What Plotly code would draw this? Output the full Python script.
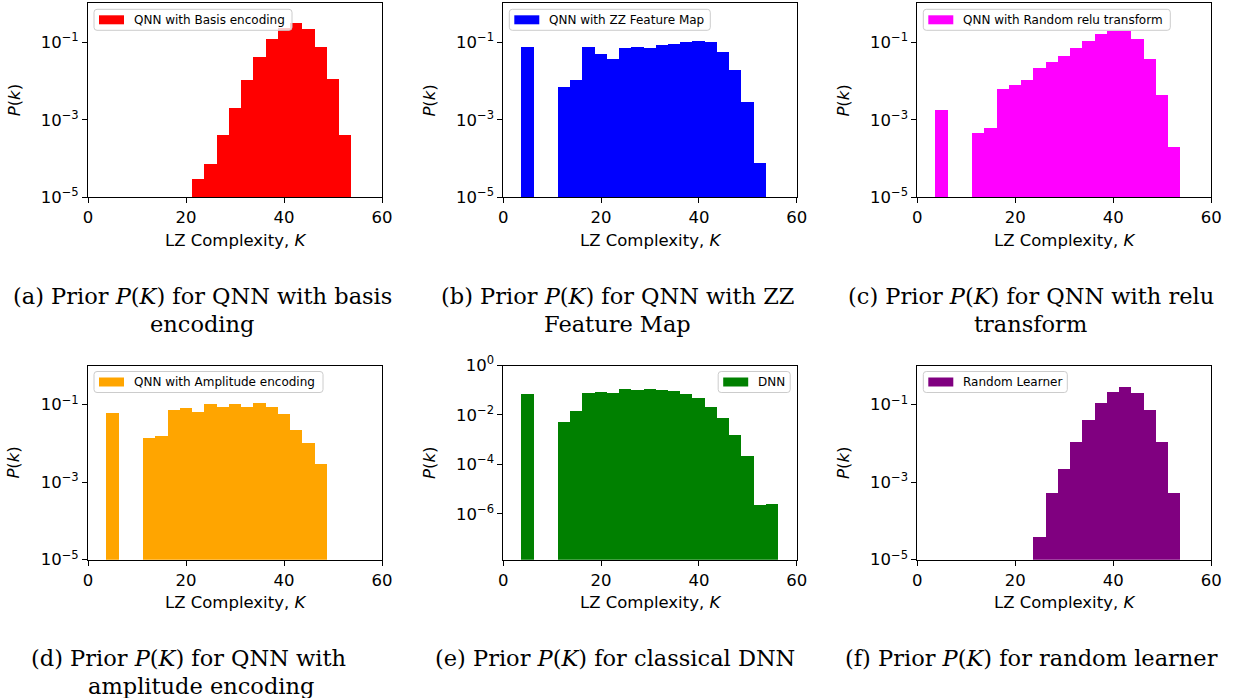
import plotly.graph_objects as go

W, H = 1236, 698
BIN_WIDTH = 2.5

# ---- histogram data: bin centres K and probabilities P(K) ----
k_basis = [22.5, 25.0, 27.5, 30.0, 32.5, 35.0, 37.5, 40.0, 42.5, 45.0, 47.5, 50.0, 52.5]
p_basis = [2.9e-5, 7.0e-5, 3.9e-4, 2.0e-3, 1.07e-2, 4.2e-2, 0.122, 0.23, 0.31, 0.22, 0.075, 0.0112, 3.9e-4]

k_zz = [5.0, 12.5, 15.0, 17.5, 20.0, 22.5, 25.0, 27.5, 30.0, 32.5, 35.0, 37.5, 40.0, 42.5, 45.0, 47.5, 50.0, 52.5]
p_zz = [0.075, 7.0e-3, 0.0108, 0.075, 0.049, 0.036, 0.071, 0.074, 0.072, 0.084, 0.092, 0.100, 0.108, 0.098,
        0.057, 0.019, 2.9e-3, 7.6e-5]

k_relu = [5.0, 12.5, 15.0, 17.5, 20.0, 22.5, 25.0, 27.5, 30.0, 32.5, 35.0, 37.5, 40.0, 42.5, 45.0, 47.5, 50.0, 52.5]
p_relu = [1.75e-3, 4.4e-4, 6.2e-4, 6.2e-3, 7.6e-3, 0.0104, 0.0213, 0.030, 0.045, 0.070, 0.106, 0.161, 0.196,
          0.198, 0.122, 0.037, 4.4e-3, 2.0e-4]

k_amp = [5.0, 12.5, 15.0, 17.5, 20.0, 22.5, 25.0, 27.5, 30.0, 32.5, 35.0, 37.5, 40.0, 42.5, 45.0, 47.5]
p_amp = [0.062, 0.0139, 0.0162, 0.073, 0.085, 0.067, 0.104, 0.089, 0.106, 0.092, 0.113, 0.089, 0.060,
         0.023, 0.0103, 3.0e-3]

k_dnn = [5.0, 12.5, 15.0, 17.5, 20.0, 22.5, 25.0, 27.5, 30.0, 32.5, 35.0, 37.5, 40.0, 42.5, 45.0, 47.5, 50.0,
         52.5, 55.0]
p_dnn = [0.073, 5.4e-3, 0.015, 0.080, 0.086, 0.080, 0.113, 0.106, 0.113, 0.106, 0.094, 0.073, 0.049, 0.021,
         8.0e-3, 1.65e-3, 2.2e-4, 2.4e-6, 2.6e-6]

k_random = [25.0, 27.5, 30.0, 32.5, 35.0, 37.5, 40.0, 42.5, 45.0, 47.5, 50.0, 52.5]
p_random = [3.9e-5, 5.4e-4, 2.3e-3, 0.011, 0.041, 0.113, 0.225, 0.30, 0.21, 0.074, 0.011, 5.3e-4]

x_ticks = [0, 20, 40, 60]
y_ticks_std = [1e-5, 1e-3, 1e-1]
y_ticktext_std = ["10<sup>\u22125</sup>", "10<sup>\u22123</sup>", "10<sup>\u22121</sup>"]
y_ticks_dnn = [1e-6, 1e-4, 1e-2, 1e0]
y_ticktext_dnn = ["10<sup>\u22126</sup>", "10<sup>\u22124</sup>", "10<sup>\u22122</sup>", "10<sup>0</sup>"]

legend_labels = ["QNN with Basis encoding", "QNN with ZZ Feature Map", "QNN with Random relu transform",
                 "QNN with Amplitude encoding", "DNN", "Random Learner"]
captions = [
    ["(a) Prior <i>P</i>(<i>K</i>) for QNN with basis", "encoding"],
    ["(b) Prior <i>P</i>(<i>K</i>) for QNN with ZZ", "Feature Map"],
    ["(c) Prior <i>P</i>(<i>K</i>) for QNN with relu", "transform"],
    ["(d) Prior <i>P</i>(<i>K</i>) for QNN with", "amplitude encoding"],
    ["(e) Prior <i>P</i>(<i>K</i>) for classical DNN"],
    ["(f) Prior <i>P</i>(<i>K</i>) for random learner"],
]
colors = ["#ff0000", "#0000ff", "#ff00ff", "#ffa500", "#008000", "#800080"]

# ---- layout geometry (pixels) ----
col_x = [(88.0, 382.0), (503.3, 796.7), (917.3, 1211.3)]
row_y = [(3.3, 197.3), (365.5, 559.7)]
caption_x = [202, 617, 1031, 188, 615, 1031]
caption_y = [(296, 324), (296, 324), (296, 324), (658, 686), (658, 686), (658, 686)]
caption2_x = [202, 617, 1030, 201, 615, 1031]
legend_width = [198, 201, 247, 229, 72, 144]
legend_right = [False, False, False, False, True, False]

FONT = "DejaVu Sans"
SERIF = "DejaVu Serif"


def px(x):
    return x / W


def py(y):
    return 1 - y / H


def rounded_path(x0, y0, x1, y1, r):
    pts = [("M", (x0 + r, y0)), ("L", (x1 - r, y0)), ("Q", (x1, y0), (x1, y0 + r)),
           ("L", (x1, y1 - r)), ("Q", (x1, y1), (x1 - r, y1)), ("L", (x0 + r, y1)),
           ("Q", (x0, y1), (x0, y1 - r)), ("L", (x0, y0 + r)), ("Q", (x0, y0), (x0 + r, y0))]
    out = []
    for item in pts:
        cmd = item[0]
        coords = " ".join(f"{px(a):.6f},{py(b):.6f}" for a, b in item[1:])
        out.append(f"{cmd} {coords}")
    return " ".join(out) + " Z"


panels = [
    (k_basis, p_basis, [-5, 0.01], y_ticks_std, y_ticktext_std),
    (k_zz, p_zz, [-5, 0.01], y_ticks_std, y_ticktext_std),
    (k_relu, p_relu, [-5, 0.01], y_ticks_std, y_ticktext_std),
    (k_amp, p_amp, [-5, 0.01], y_ticks_std, y_ticktext_std),
    (k_dnn, p_dnn, [-7.86, 0.0], y_ticks_dnn, y_ticktext_dnn),
    (k_random, p_random, [-5, 0.01], y_ticks_std, y_ticktext_std),
]

fig = go.Figure()
layout = dict(
    width=W, height=H,
    margin=dict(l=0, r=0, t=0, b=0, pad=0, autoexpand=False),
    paper_bgcolor="white", plot_bgcolor="white",
    showlegend=False, bargap=0,
    font=dict(family=FONT, size=16.5, color="black"),
)
shapes = []
annotations = []

for i, (k, p, yr, yt, ytt) in enumerate(panels):
    n = i + 1
    sfx = "" if n == 1 else str(n)
    xl, xr = col_x[i % 3]
    yt_px, yb_px = row_y[i // 3]

    fig.add_trace(go.Bar(
        x=k, y=p, width=BIN_WIDTH,
        marker=dict(color=colors[i], line=dict(width=0)),
        xaxis="x" + sfx, yaxis="y" + sfx, name=legend_labels[i],
    ))

    axis_common = dict(
        showline=True, mirror=True, linecolor="black", linewidth=1,
        ticks="outside", ticklen=5, tickwidth=1, tickcolor="black",
        showgrid=False, zeroline=False, automargin=False,
        tickfont=dict(family=FONT, size=16.5, color="black"),
    )
    layout["xaxis" + sfx] = dict(
        domain=[px(xl), px(xr)], anchor="y" + sfx, range=[0, 60],
        tickvals=x_ticks, ticktext=[str(v) for v in x_ticks], **axis_common,
    )
    layout["yaxis" + sfx] = dict(
        domain=[py(yb_px), py(yt_px)], anchor="x" + sfx, type="log", range=yr,
        tickvals=yt, ticktext=ytt, **axis_common,
    )

    # axis titles
    annotations.append(dict(
        x=px((xl + xr) / 2), y=py(yb_px + 43), xref="paper", yref="paper",
        text="LZ Complexity, <i>K</i>", showarrow=False, xanchor="center", yanchor="middle",
        font=dict(family=FONT, size=16.5, color="black"),
    ))
    annotations.append(dict(
        x=px(xl - 74), y=py((yt_px + yb_px) / 2), xref="paper", yref="paper",
        text="<i>P</i>(<i>k</i>)", showarrow=False, textangle=-90,
        xanchor="center", yanchor="middle",
        font=dict(family=FONT, size=16.5, color="black"),
    ))

    # legend frame, colour patch and label
    lw = legend_width[i]
    if legend_right[i]:
        bx1 = xr - 6.5
        bx0 = bx1 - lw
    else:
        bx0 = xl + 6
        bx1 = bx0 + lw
    by0 = yt_px + 6
    by1 = by0 + 21
    shapes.append(dict(
        type="path", xref="paper", yref="paper", path=rounded_path(bx0, by0, bx1, by1, 3),
        fillcolor="rgba(255,255,255,0.8)", line=dict(color="#cccccc", width=1),
    ))
    cy = (by0 + by1) / 2
    shapes.append(dict(
        type="rect", xref="paper", yref="paper",
        x0=px(bx0 + 5), x1=px(bx0 + 30), y0=py(cy - 4.5), y1=py(cy + 4.5),
        fillcolor=colors[i], line=dict(width=0),
    ))
    annotations.append(dict(
        x=px(bx0 + 38), y=py(cy), xref="paper", yref="paper",
        text=legend_labels[i], showarrow=False, xanchor="left", yanchor="middle",
        font=dict(family=FONT, size=12, color="black"),
    ))

    # sub-figure caption
    for j, (line, ly) in enumerate(zip(captions[i], caption_y[i])):
        cx = caption_x[i] if j == 0 else caption2_x[i]
        annotations.append(dict(
            x=px(cx), y=py(ly), xref="paper", yref="paper",
            text=line, showarrow=False, xanchor="center", yanchor="middle",
            font=dict(family=SERIF, size=22.5, color="black"),
        ))

layout["shapes"] = shapes
layout["annotations"] = annotations
fig.update_layout(**layout)

fig.write_html("out.html", config={"displayModeBar": False})
